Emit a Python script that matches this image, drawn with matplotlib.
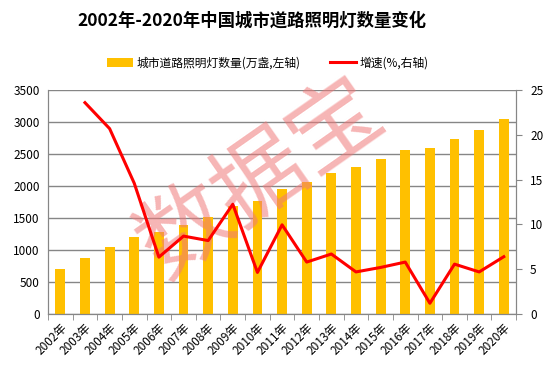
import numpy as np
import matplotlib
matplotlib.use('Agg')
import matplotlib.pyplot as plt
from matplotlib.ticker import MultipleLocator, FixedLocator

plt.rcParams['font.family'] = ['Noto Sans CJK SC', 'DejaVu Sans']

years = ['2002年', '2003年', '2004年', '2005年', '2006年', '2007年', '2008年', '2009年', '2010年', '2011年',
         '2012年', '2013年', '2014年', '2015年', '2016年', '2017年', '2018年', '2019年', '2020年']
lamps = [703, 878, 1050, 1203, 1286, 1390, 1514, 1692, 1768, 1953,
         2065, 2205, 2298, 2423, 2564, 2595, 2735, 2876, 3047]
growth = [np.nan, 23.6, 20.7, 14.6, 6.35, 8.7, 8.2, 12.26, 4.64, 9.96,
          5.8, 6.7, 4.7, 5.2, 5.8, 1.2, 5.57, 4.7, 6.4]

x = np.arange(len(years))
grey = '#868686'

fig = plt.figure(figsize=(5.52, 3.71), dpi=100)
ax = fig.add_axes([0.087, 0.1536, 0.848, 0.6035])
ax2 = ax.twinx()

ax.bar(x, lamps, width=0.4, color='#ffc000', zorder=2, label='城市道路照明灯数量(万盏,左轴)')
ax2.plot(x, growth, color='#ff0000', lw=2.2, zorder=3, label='增速(%,右轴)')

ax.set_xlim(-0.5, len(years) - 0.5)
ax.set_ylim(0, 3500)
ax.yaxis.set_major_locator(MultipleLocator(500))
ax.grid(True, axis='y', color=grey, lw=1, zorder=0)
ax.set_axisbelow(True)
ax2.set_ylim(0, 25)
ax2.yaxis.set_major_locator(MultipleLocator(5))

ax.set_xticks(x)
ax.set_xticklabels(years, rotation=45, ha='right', rotation_mode='anchor', fontsize=8.5)
ax.xaxis.set_minor_locator(FixedLocator(np.arange(-0.5, len(years), 1.0)))
ax.tick_params(axis='x', which='major', length=0, pad=5)
ax.tick_params(axis='x', which='minor', length=4, color=grey, direction='out')
ax.tick_params(axis='y', length=0, labelsize=8.5, pad=6)
ax2.tick_params(axis='y', length=4, color=grey, labelsize=8.5, pad=6)

for a in (ax, ax2):
    for s in a.spines.values():
        s.set_color(grey)
    a.spines['top'].set_visible(False)

# watermark
ax.text(0.457, 0.60, '数据宝', transform=ax.transAxes, fontsize=66, color='#f07878',
        alpha=0.55, rotation=35, ha='center', va='center', zorder=2.5)

fig.text(0.457, 0.945, '2002年-2020年中国城市道路照明灯数量变化', ha='center', va='center',
         fontsize=12.5, fontweight='bold')

h1, l1 = ax.get_legend_handles_labels()
h2, l2 = ax2.get_legend_handles_labels()
fig.legend(h1 + h2, l1 + l2, loc='center', bbox_to_anchor=(0.485, 0.83), ncol=2,
           frameon=False, fontsize=8.5, handlelength=2.2, columnspacing=2.5, handletextpad=0.3)

fig.savefig('out.png', dpi=100)
